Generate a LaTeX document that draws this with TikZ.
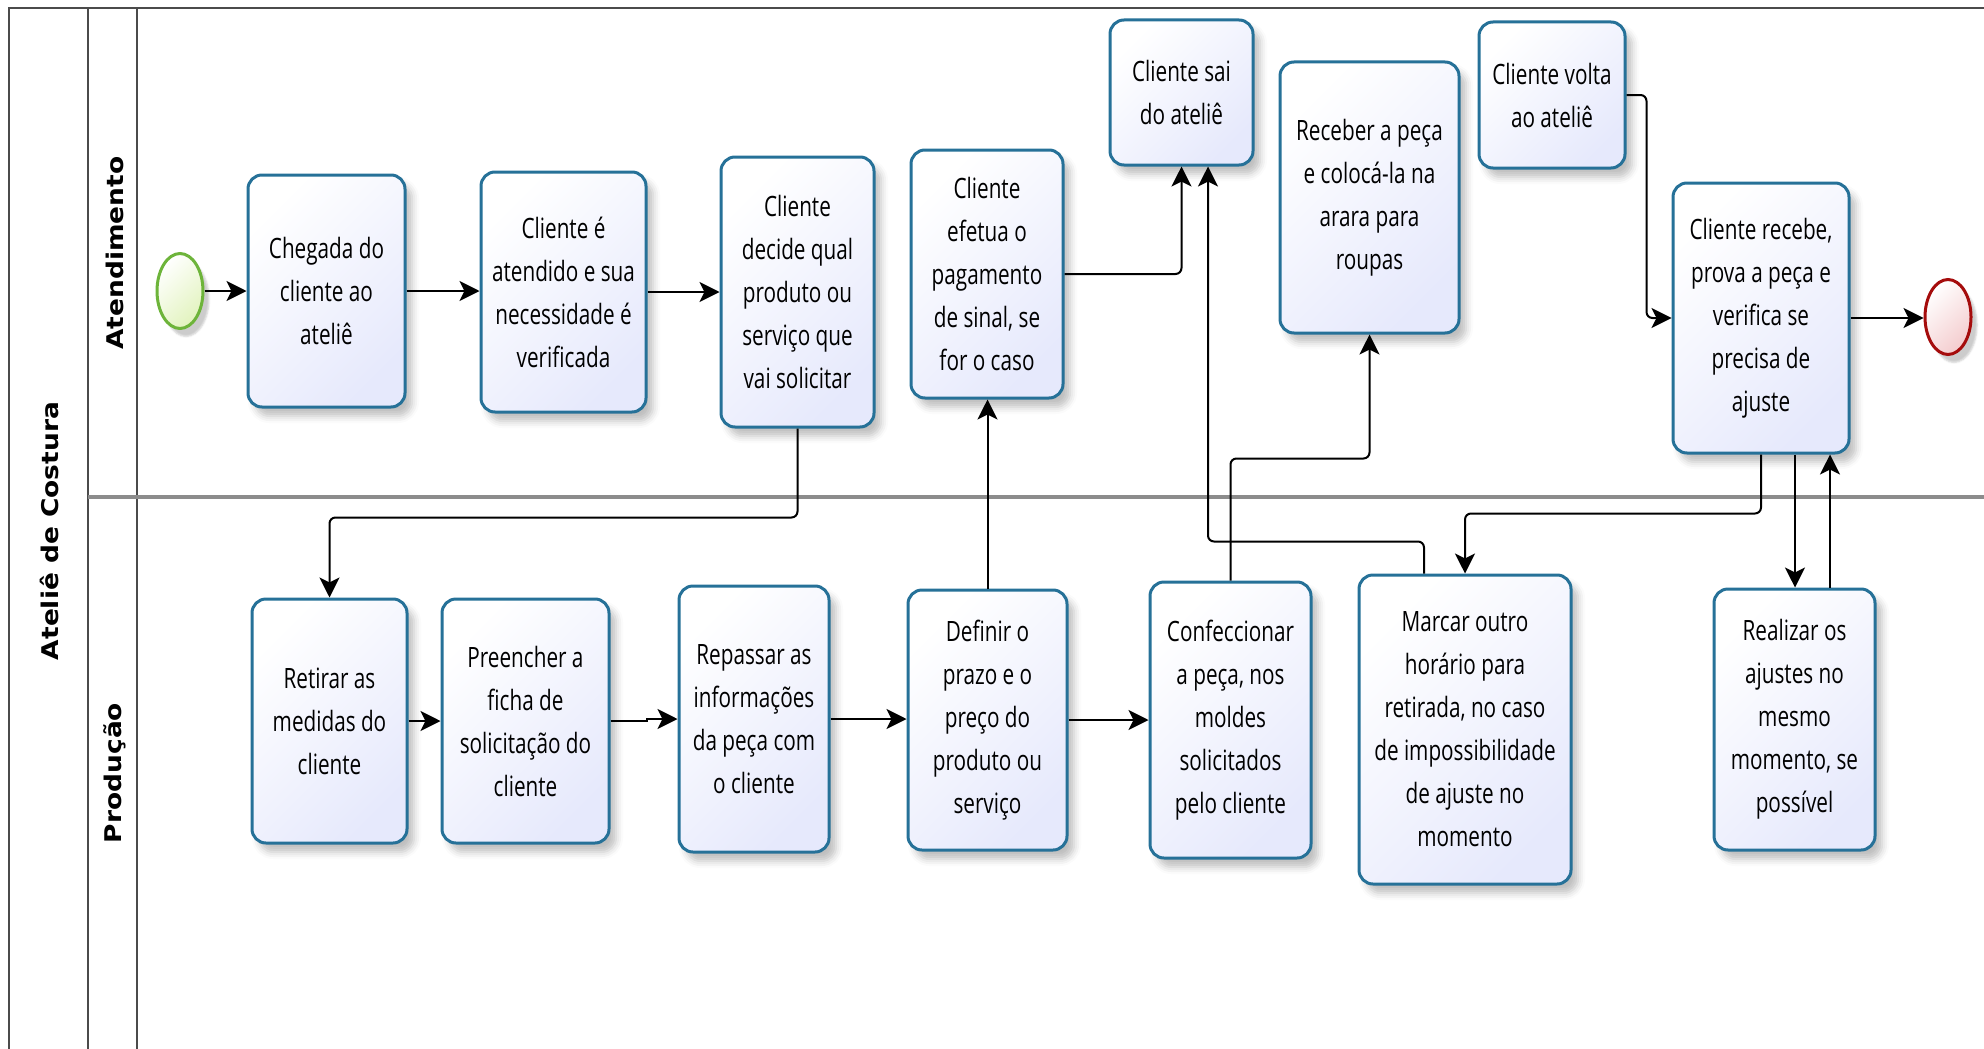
\documentclass[tikz,border=0pt]{standalone}
\usepackage{fontspec}
\usetikzlibrary{arrows.meta,shapes.geometric,shadows.blur}
\newfontfamily\tarefafont[FakeStretch=0.74]{Open Sans}
\newfontfamily\raiafont[FakeStretch=1.15]{DejaVu Sans}
\definecolor{tarefaborda}{RGB}{38,113,152}
\definecolor{tarefafundo}{RGB}{230,233,252}
\definecolor{inicioborda}{RGB}{109,180,58}
\definecolor{iniciofundo}{RGB}{226,243,190}
\definecolor{fimborda}{RGB}{165,12,12}
\definecolor{fimfundo}{RGB}{244,204,206}
\definecolor{moldura}{RGB}{75,75,75}
\definecolor{divisa}{RGB}{140,140,140}
\begin{document}
\begin{tikzpicture}
[x=1pt,y=-1pt,%
  tarefa/.style={draw=tarefaborda,line width=3pt,rounded corners=14pt,%
    top color=white,bottom color=tarefafundo,shading angle=45,%
    blur shadow={shadow xshift=7pt,shadow yshift=-9pt,shadow opacity=25,shadow blur radius=7pt},%
    align=center,inner sep=0pt,font=\tarefafont\fontsize{28}{43}\selectfont},%
  evento/.style={ellipse,line width=3pt,minimum width=46pt,minimum height=75pt,inner sep=0pt,%
    blur shadow={shadow xshift=6pt,shadow yshift=-8pt,shadow opacity=20}},%
  fluxo/.style={-{Stealth[length=20pt,width=20pt,inset=5pt]},line width=2pt,rounded corners=6pt},%
  raia/.style={rotate=90,font=\raiafont\bfseries\fontsize{23}{28}\selectfont}]
\useasboundingbox (0,0) rectangle (1984,1049);
\draw[moldura,line width=2pt] (9,1049) -- (9,8) -- (1984,8);
\draw[moldura,line width=1.5pt] (88,8) -- (88,1049) (137,8) -- (137,1049);
\draw[divisa,line width=4pt] (88,497) -- (1984,497);
\node[raia] (pool) at (49,531) {Ateliê de Costura};
\node[raia] (atendimento) at (115,253) {Atendimento};
\node[raia] (producao) at (115,773) {Produção};

\node[evento,draw=inicioborda,top color=white,bottom color=iniciofundo,shading angle=45] (inicio) at (180,291) {};
\node[tarefa,minimum width=157pt,minimum height=232pt] (chegada) at (326.5,291) {Chegada do\\cliente ao\\ateliê};
\node[tarefa,minimum width=165pt,minimum height=240pt] (atendido) at (563.5,292) {Cliente é\\atendido e sua\\necessidade é\\verificada};
\node[tarefa,minimum width=153pt,minimum height=270pt] (decide) at (797.5,292) {Cliente\\decide qual\\produto ou\\serviço que\\vai solicitar};
\node[tarefa,minimum width=152pt,minimum height=248pt] (pagamento) at (987,274) {Cliente\\efetua o\\pagamento\\de sinal, se\\for o caso};
\node[tarefa,minimum width=143pt,minimum height=145pt] (sai) at (1181.5,92.5) {Cliente sai\\do ateliê};
\node[tarefa,minimum width=179pt,minimum height=271pt] (arara) at (1369.5,197.5) {Receber a peça\\e colocá-la na\\arara para\\roupas};
\node[tarefa,minimum width=146pt,minimum height=146pt] (volta) at (1552,95) {Cliente volta\\ao ateliê};
\node[tarefa,minimum width=176pt,minimum height=270pt] (prova) at (1761,318) {Cliente recebe,\\prova a peça e\\verifica se\\precisa de\\ajuste};
\node[evento,draw=fimborda,top color=white,bottom color=fimfundo,shading angle=45] (fim) at (1948,317) {};

\node[tarefa,minimum width=155pt,minimum height=244pt] (medidas) at (329.5,721) {Retirar as\\medidas do\\cliente};
\node[tarefa,minimum width=167pt,minimum height=244pt] (ficha) at (525.5,721) {Preencher a\\ficha de\\solicitação do\\cliente};
\node[tarefa,minimum width=150pt,minimum height=266pt] (repassar) at (754,719) {Repassar as\\informações\\da peça com\\o cliente};
\node[tarefa,minimum width=159pt,minimum height=260pt] (prazo) at (987.5,720) {Definir o\\prazo e o\\preço do\\produto ou\\serviço};
\node[tarefa,minimum width=161pt,minimum height=276pt] (confeccionar) at (1230.5,720) {Confeccionar\\a peça, nos\\moldes\\solicitados\\pelo cliente};
\node[tarefa,minimum width=212pt,minimum height=309pt] (marcar) at (1465,729.5) {Marcar outro\\horário para\\retirada, no caso\\de impossibilidade\\de ajuste no\\momento};
\node[tarefa,minimum width=161pt,minimum height=261pt] (ajustes) at (1794.5,719.5) {Realizar os\\ajustes no\\mesmo\\momento, se\\possível};

\draw[fluxo] (inicio.east) -- (chegada.west);
\draw[fluxo] (chegada.east) -- (chegada.east -| atendido.west);
\draw[fluxo] (atendido.east) -- (atendido.east -| decide.west);
\draw[fluxo] (decide.south) -- ++(0,89) -| (medidas.north);
\draw[fluxo] (medidas.east) -- (ficha.west);
\draw[fluxo,sharp corners] (ficha.east) -- ++(36,0) |- (repassar.west);
\draw[fluxo] (repassar.east) -- (repassar.east -| prazo.west);
\draw[fluxo] (prazo.east) -- (prazo.east -| confeccionar.west);
\draw[fluxo] (prazo.north) -- (prazo.north |- pagamento.south);
\draw[fluxo] (pagamento.east) -| (sai.south);
\draw[fluxo] ([xshift=-41pt]marcar.north) -- ++(0,-32) -| ([xshift=26.5pt]sai.south);
\draw[fluxo] (confeccionar.north) -- ++(0,-122) -| (arara.south);
\draw[fluxo] (volta.east) -- ++(20,0) |- (prova.west);
\draw[fluxo] (prova.east) -- (prova.east -| fim.west);
\draw[fluxo] (prova.south) -- ++(0,59) -| (marcar.north);
\draw[fluxo] ([xshift=34pt]prova.south) -- ([xshift=34pt]prova.south |- ajustes.north);
\draw[fluxo] ([xshift=35.5pt]ajustes.north) -- ([xshift=35.5pt]ajustes.north |- prova.south);
\end{tikzpicture}
\end{document}
